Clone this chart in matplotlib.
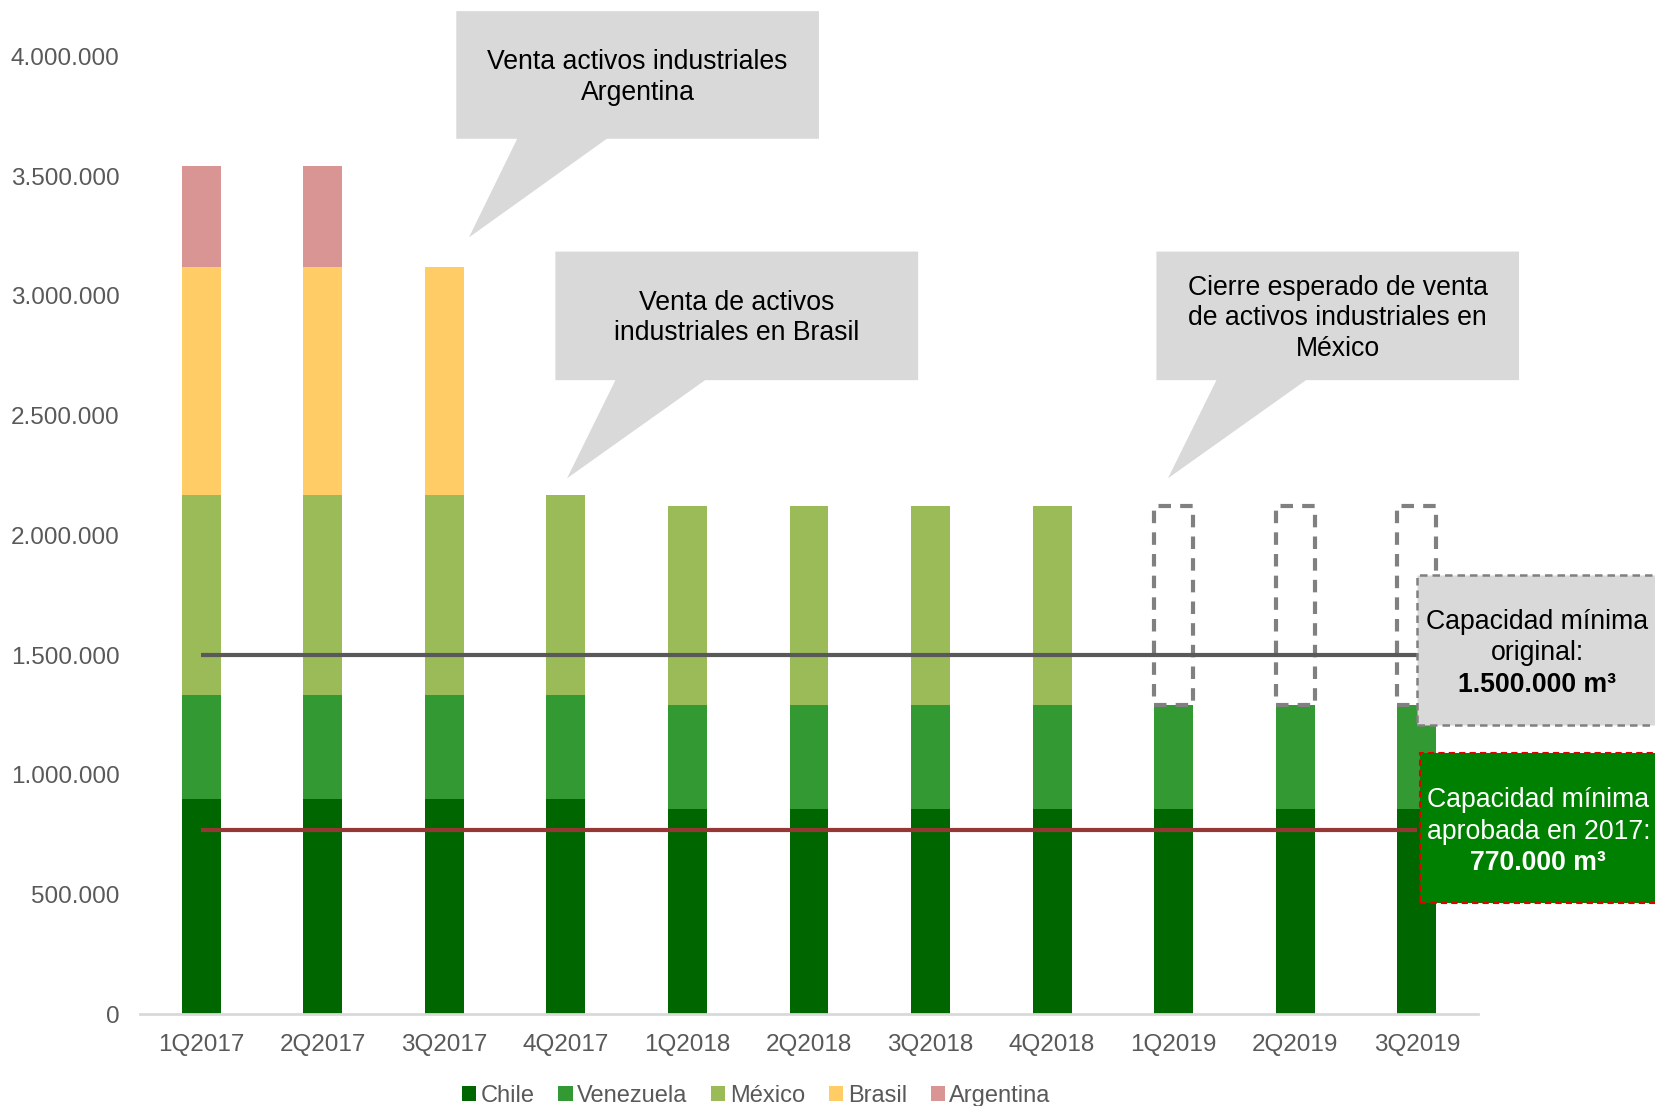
import matplotlib
matplotlib.use("Agg")
import matplotlib.pyplot as plt
from matplotlib.patches import Polygon, Rectangle
from matplotlib.ticker import FuncFormatter
import numpy as np

plt.rcParams['font.family'] = ['Liberation Sans', 'DejaVu Sans']

quarters = ["1Q2017", "2Q2017", "3Q2017", "4Q2017", "1Q2018", "2Q2018",
            "3Q2018", "4Q2018", "1Q2019", "2Q2019", "3Q2019"]
chile     = [900000, 900000, 900000, 900000, 855000, 855000, 855000, 855000, 855000, 855000, 855000]
venezuela = [435000, 435000, 435000, 435000, 435000, 435000, 435000, 435000, 435000, 435000, 435000]
mexico    = [832000, 832000, 832000, 832000, 833000, 833000, 833000, 833000, 0, 0, 0]
mexico_pending = [0, 0, 0, 0, 0, 0, 0, 0, 833000, 833000, 833000]
brasil    = [952000, 952000, 952000, 0, 0, 0, 0, 0, 0, 0, 0]
argentina = [423000, 423000, 0, 0, 0, 0, 0, 0, 0, 0, 0]
series_names = ["Chile", "Venezuela", "México", "Brasil", "Argentina"]
colors = ["#006600", "#339933", "#9BBB59", "#FFCC66", "#D99594"]
cap_original = 1500000
cap_2017 = 770000

fig = plt.figure(figsize=(16.55, 11.06), dpi=100)
ax = fig.add_axes([0.0848, 0.083, 0.808, 0.866])

x = np.arange(len(quarters))
w = 0.32
bottom = np.zeros(len(quarters))
handles = []
for vals, name, c in zip([chile, venezuela, mexico, brasil, argentina], series_names, colors):
    v = np.array(vals, dtype=float)
    b = ax.bar(x, v, w, bottom=bottom, color=c, label=name, edgecolor='none', zorder=2)
    handles.append(b)
    bottom = bottom + v

# pending (dashed outline) Mexico bars
base_pending = np.array(chile) + np.array(venezuela)
for xi, hp, bp in zip(x, mexico_pending, base_pending):
    if hp > 0:
        ax.add_patch(Rectangle((xi - w / 2, bp), w, hp, fill=False, edgecolor='#808080',
                               linestyle=(0, (3, 2.2)), linewidth=3, zorder=3, joinstyle='round'))

# capacity lines
ax.plot([0, 10.0], [cap_original, cap_original], color='#595959', lw=3, zorder=4, solid_capstyle='butt')
ax.plot([0, 10.0], [cap_2017, cap_2017], color='#953735', lw=3, zorder=4, solid_capstyle='butt')

ax.set_xlim(-0.5, 10.5)
ax.set_ylim(0, 4000000)
ax.set_yticks(np.arange(0, 4000001, 500000))
ax.yaxis.set_major_formatter(FuncFormatter(lambda v, p: f"{int(v):,}".replace(",", ".")))
ax.set_xticks(x)
ax.set_xticklabels(quarters)
ax.tick_params(axis='both', length=0, labelsize=17.5, labelcolor='#595959')
ax.tick_params(axis='x', pad=14)
ax.tick_params(axis='y', pad=15)
for s in ['top', 'right', 'left']:
    ax.spines[s].set_visible(False)
ax.spines['bottom'].set_color('#D9D9D9')
ax.spines['bottom'].set_linewidth(2)

FS = 19.2
# callouts
gray = '#D9D9D9'
def callout(x0, x1, y0, y1, bx0, bx1, tip, text):
    pts = [(x0, y1), (x1, y1), (x1, y0), (bx1, y0), tip, (bx0, y0), (x0, y0)]
    ax.add_patch(Polygon(pts, closed=True, facecolor=gray, edgecolor='none', clip_on=False, zorder=5))
    ax.text((x0 + x1) / 2, (y0 + y1) / 2 - 0.01e6, text, ha='center', va='center', fontsize=FS,
            color='black', zorder=6, linespacing=1.22, clip_on=False)

callout(2.099, 5.082, 3.656e6, 4.189e6, 2.60, 3.337, (2.203, 3.244e6),
        "Venta activos industriales\nArgentina")
callout(2.914, 5.898, 2.648e6, 3.185e6, 3.408, 4.146, (3.010, 2.238e6),
        "Venta de activos\nindustriales en Brasil")
callout(7.858, 10.841, 2.648e6, 3.185e6, 8.352, 9.089, (7.953, 2.238e6),
        "Cierre esperado de venta\nde activos industriales en\nMéxico")

# capacity boxes
ax.add_patch(Rectangle((10.0, 1.207e6), 2.1, 0.626e6, facecolor=gray, edgecolor='#808080',
                       linestyle=(0, (3, 2)), linewidth=1.8, clip_on=False, zorder=5))
ax.text(10.99, 1.639e6, "Capacidad mínima", ha='center', va='center', fontsize=FS, zorder=6, clip_on=False)
ax.text(10.99, 1.507e6, "original:", ha='center', va='center', fontsize=FS, zorder=6, clip_on=False)
ax.text(10.99, 1.375e6, "1.500.000 m³", ha='center', va='center', fontsize=FS, fontweight='bold', zorder=6, clip_on=False)

ax.add_patch(Rectangle((10.026, 0.4626e6), 2.1, 0.63e6, facecolor='#008000', edgecolor='#E00000',
                       linestyle=(0, (3, 2)), linewidth=1.5, clip_on=False, zorder=5))
ax.text(11.0, 0.895e6, "Capacidad mínima", ha='center', va='center', fontsize=FS, color='white', zorder=6, clip_on=False)
ax.text(11.0, 0.763e6, "aprobada en 2017:", ha='center', va='center', fontsize=FS, color='white', zorder=6, clip_on=False)
ax.text(11.0, 0.631e6, "770.000 m³", ha='center', va='center', fontsize=FS, color='white', fontweight='bold', zorder=6, clip_on=False)

fig.legend(handles, series_names, loc='center', bbox_to_anchor=(0.457, 0.009), ncol=5,
           frameon=False, fontsize=17, handlelength=0.6, handleheight=0.6, handletextpad=0.2,
           columnspacing=1.0, labelcolor='#595959')

fig.savefig("out.png", dpi=100)
